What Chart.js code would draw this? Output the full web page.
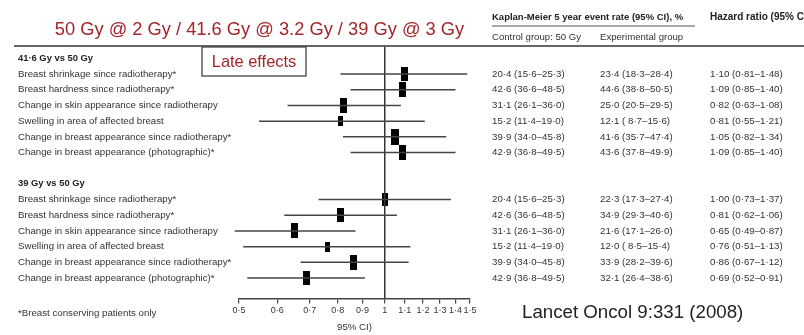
<!DOCTYPE html>
<html>
<head>
<meta charset="utf-8">
<script src="https://cdn.jsdelivr.net/npm/chart.js@4.4.0/dist/chart.umd.min.js"></script>
<style>
  html, body { margin: 0; padding: 0; background: #fff; overflow: hidden; }
  #wrap { width: 804px; height: 335px; position: relative; }
</style>
</head>
<body>
<div id="wrap"><canvas id="chart"></canvas></div>
<script>
const groupTitles = ["41·6 Gy vs 50 Gy", "39 Gy vs 50 Gy"];
const outcomes = [
  "Breast shrinkage since radiotherapy*",
  "Breast hardness since radiotherapy*",
  "Change in skin appearance since radiotherapy",
  "Swelling in area of affected breast",
  "Change in breast appearance since radiotherapy*",
  "Change in breast appearance (photographic)*",
];

// Kaplan-Meier 5 year event rates, %
const controlRate = ["20·4 (15·6–25·3)", "42·6 (36·6–48·5)", "31·1 (26·1–36·0)", "15·2 (11·4–19·0)", "39·9 (34·0–45·8)", "42·9 (36·8–49·5)"];
const rate416 = ["23·4 (18·3–28·4)", "44·6 (38·8–50·5)", "25·0 (20·5–29·5)", "12·1 ( 8·7–15·6)", "41·6 (35·7–47·4)", "43·6 (37·8–49·9)"];
const rate39 = ["22·3 (17·3–27·4)", "34·9 (29·3–40·6)", "21·6 (17·1–26·0)", "12·0 ( 8·5–15·4)", "33·9 (28·2–39·6)", "32·1 (26·4–38·6)"];

// hazard ratios with 95% CI
const hr416 = [1.10, 1.09, 0.82, 0.81, 1.05, 1.09];
const lo416 = [0.81, 0.85, 0.63, 0.55, 0.82, 0.85];
const hi416 = [1.48, 1.40, 1.08, 1.21, 1.34, 1.40];
const hr39 = [1.00, 0.81, 0.65, 0.76, 0.86, 0.69];
const lo39 = [0.73, 0.62, 0.49, 0.51, 0.67, 0.52];
const hi39 = [1.37, 1.06, 0.87, 1.13, 1.12, 0.91];

const xTicks = [0.5, 0.6, 0.7, 0.8, 0.9, 1, 1.1, 1.2, 1.3, 1.4, 1.5];

// box heights (px) for the point estimates
const boxH416 = [14, 15, 15, 10, 16, 15];
const boxH39 = [13, 14, 15, 10, 15, 14];

const groups = [
  { title: groupTitles[0], rate: rate416, hr: hr416, lo: lo416, hi: hi416, box: boxH416 },
  { title: groupTitles[1], rate: rate39, hr: hr39, lo: lo39, hi: hi39, box: boxH39 },
];

const FONT = '"Liberation Sans", Arial, sans-serif';
const TEXT = "#333";
const Y_MIN = -0.79, Y_MAX = 15.31;

const dot = (v, d) => v.toFixed(d).replace(".", "·");
const rowOf = (g, i) => g * 8 + 1 + i;

function makeBox(h) {
  const c = document.createElement("canvas");
  c.width = Math.round(h * 0.47);
  c.height = h;
  const ctx = c.getContext("2d");
  ctx.fillStyle = "#000";
  ctx.fillRect(0, 0, c.width, c.height);
  return c;
}

const datasets = [];
const markerPts = [];
const markerStyles = [];

groups.forEach((grp, g) => {
  grp.hr.forEach((v, i) => {
    const y = rowOf(g, i);
    datasets.push({
      data: [{ x: grp.lo[i], y }, { x: grp.hi[i], y }],
      showLine: true,
      borderColor: "#444",
      borderWidth: 1.5,
      pointRadius: 0,
      clip: false,
    });
    markerPts.push({ x: v, y });
    markerStyles.push(makeBox(grp.box[i]));
  });
});

// line of no effect
datasets.push({
  data: [{ x: 1, y: Y_MIN }, { x: 1, y: Y_MAX }],
  showLine: true,
  borderColor: "#333",
  borderWidth: 1.5,
  pointRadius: 0,
});

datasets.push({
  data: markerPts,
  showLine: false,
  pointStyle: markerStyles,
  pointRadius: 5,
  clip: false,
});

const tablePlugin = {
  id: "tableText",
  afterDraw(chart) {
    const { ctx } = chart;
    const yS = chart.scales.y;
    ctx.save();

    // title
    ctx.fillStyle = "#a3262b";
    ctx.font = "18.3px " + FONT;
    ctx.textAlign = "center";
    ctx.textBaseline = "middle";
    ctx.fillText("50 Gy @ 2 Gy / 41.6 Gy @ 3.2 Gy / 39 Gy @ 3 Gy", 259.5, 29.5);

    // column headers
    ctx.textAlign = "left";
    ctx.fillStyle = "#222";
    ctx.font = "bold 9.5px " + FONT;
    ctx.fillText("Kaplan-Meier 5 year event rate (95% CI), %", 492, 17);
    ctx.font = "bold 10px " + FONT;
    ctx.fillText("Hazard ratio (95% CI)", 710, 17);
    ctx.font = "9.6px " + FONT;
    ctx.fillStyle = TEXT;
    ctx.fillText("Control group: 50 Gy", 492, 37);
    ctx.fillText("Experimental group", 600, 37);

    ctx.strokeStyle = "#555";
    ctx.lineWidth = 1.2;
    ctx.beginPath();
    ctx.moveTo(492, 26);
    ctx.lineTo(695, 26);
    ctx.stroke();
    ctx.lineWidth = 2;
    ctx.strokeStyle = "#666";
    ctx.beginPath();
    ctx.moveTo(14, 46);
    ctx.lineTo(804, 46);
    ctx.stroke();

    // rows
    groups.forEach((grp, g) => {
      ctx.fillStyle = "#222";
      ctx.font = "bold 9.4px " + FONT;
      ctx.fillText(grp.title, 18, yS.getPixelForValue(g * 8));
      ctx.font = "9.7px " + FONT;
      ctx.fillStyle = TEXT;
      outcomes.forEach((name, i) => {
        const y = yS.getPixelForValue(rowOf(g, i));
        ctx.fillText(name, 18, y);
        ctx.fillText(controlRate[i], 492, y);
        ctx.fillText(grp.rate[i], 600, y);
        ctx.fillText(dot(grp.hr[i], 2) + " (" + dot(grp.lo[i], 2) + "–" + dot(grp.hi[i], 2) + ")", 710, y);
      });
    });

    ctx.fillText("*Breast conserving patients only", 18, 313);

    // late effects box
    ctx.fillStyle = "#fff";
    ctx.fillRect(202, 47, 104, 29);
    ctx.strokeStyle = "#444";
    ctx.lineWidth = 1.3;
    ctx.strokeRect(202, 47, 104, 29);
    ctx.fillStyle = "#a3262b";
    ctx.font = "16.4px " + FONT;
    ctx.textAlign = "center";
    ctx.fillText("Late effects", 254, 62);

    ctx.fillStyle = "#222";
    ctx.font = "18.7px " + FONT;
    ctx.textAlign = "left";
    ctx.fillText("Lancet Oncol 9:331 (2008)", 522, 313);
    ctx.restore();
  },
};

new Chart(document.getElementById("chart"), {
  type: "scatter",
  data: { datasets },
  options: {
    responsive: true,
    maintainAspectRatio: false,
    animation: false,
    devicePixelRatio: 1,
    layout: { padding: { left: 239, right: 334, top: 46, bottom: 2 } },
    plugins: { legend: { display: false }, tooltip: { enabled: false } },
    scales: {
      x: {
        type: "logarithmic",
        min: 0.5,
        max: 1.5,
        afterBuildTicks: (s) => { s.ticks = xTicks.map((v) => ({ value: v })); },
        ticks: {
          autoSkip: false,
          maxRotation: 0,
          padding: 2,
          color: TEXT,
          font: { family: FONT, size: 9 },
          callback: (v) => (v === 1 ? "1" : dot(v, 1)),
        },
        grid: { drawOnChartArea: false, drawTicks: true, tickLength: 5, color: "#444", lineWidth: 1.2 },
        border: { display: true, color: "#444", width: 1.5 },
        title: {
          display: true,
          text: "95% CI)",
          color: TEXT,
          font: { family: FONT, size: 9.7 },
          padding: { top: 3, bottom: 0 },
        },
      },
      y: { type: "linear", reverse: true, min: Y_MIN, max: Y_MAX, display: false },
    },
  },
  plugins: [tablePlugin],
});
</script>
</body>
</html>
